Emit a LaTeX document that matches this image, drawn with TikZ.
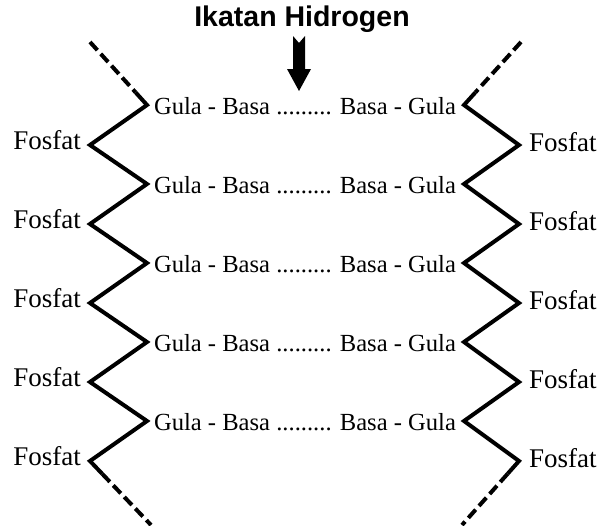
\documentclass[tikz,border=0pt]{standalone}
\usepackage{fontspec}
\setmainfont{Liberation Serif}
\newfontfamily\headfont{Liberation Sans}
\usetikzlibrary{calc}
\begin{document}
\begin{tikzpicture}[x=1pt,y=-1pt,
  pair/.style={font=\fontsize{24.6}{28}\selectfont, inner sep=0pt},
  fos/.style={font=\fontsize{27}{30}\selectfont, inner sep=0pt},
  backbone/.style={line width=4pt, line join=miter, line cap=butt},
  tail/.style={line width=4pt, dash pattern=on 11pt off 5pt}]
\useasboundingbox (0,0) rectangle (604,525);

% title and pointer
\node[font=\headfont\bfseries\fontsize{28.5}{30}\selectfont, inner sep=0pt] (title) at (302,19) {Ikatan Hidrogen};
\fill (293,36) -- (299,43) -- (305,36) -- (305,69) -- (311,69) -- (299,91)
      -- (287,69) -- (293,69) -- cycle;

% vertices of the two backbones
\foreach \i/\yg/\yf in {1/105/145, 2/184/224, 3/263/303, 4/342/382, 5/421/461} {
  \coordinate (LG\i) at (147,\yg);
  \coordinate (LF\i) at (90,\yf);
  \coordinate (RG\i) at (464,\yg);
  \coordinate (RF\i) at (519,\yf);
  \node[pair] (row\i) at (305,\yg+1) {Gula - Basa ......... Basa - Gula};
  \node[fos, anchor=base east] (lf\i) at (81,\yf+4) {Fosfat};
  \node[fos, anchor=base west] (rf\i) at (529,\yf+6) {Fosfat};
}
\coordinate (LT) at (90,42);
\coordinate (LB) at (151,525);
\coordinate (RT) at (521,42);
\coordinate (RB) at (462,525);

% solid zigzags
\draw[backbone] ($(LT)!0.8!(LG1)$) -- (LG1) -- (LF1) -- (LG2) -- (LF2) -- (LG3)
  -- (LF3) -- (LG4) -- (LF4) -- (LG5) -- (LF5) -- ($(LF5)!0.2!(LB)$);
\draw[backbone] ($(RT)!0.8!(RG1)$) -- (RG1) -- (RF1) -- (RG2) -- (RF2) -- (RG3)
  -- (RF3) -- (RG4) -- (RF4) -- (RG5) -- (RF5) -- ($(RF5)!0.2!(RB)$);

% dashed continuations
\draw[tail] (LT) -- ($(LT)!0.8!(LG1)$);
\draw[tail] ($(LF5)!0.2!(LB)$) -- (LB);
\draw[tail] (RT) -- ($(RT)!0.8!(RG1)$);
\draw[tail] ($(RF5)!0.2!(RB)$) -- (RB);
\end{tikzpicture}
\end{document}
